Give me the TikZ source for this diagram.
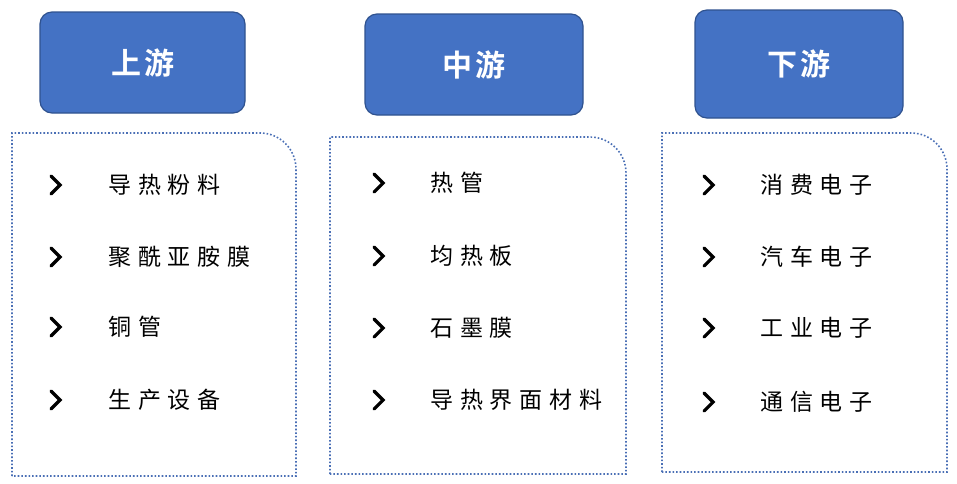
\documentclass[tikz,border=0pt]{standalone}
\usepackage{fontspec}
\setmainfont{Noto Sans CJK SC}[LetterSpace=30]
\newfontfamily\cjkb{Noto Sans CJK SC Bold}[LetterSpace=10]
\begin{document}
\begin{tikzpicture}[x=1pt,y=-1pt,
  hdr/.style={draw=hdrline,line width=1.2pt,fill=hdrfill,rounded corners=12pt,text=white,font=\cjkb\fontsize{30}{32}\selectfont},
  dbox/.style={draw=dotline,line width=1.6pt,dotted},
  item/.style={anchor=west,font=\fontsize{23}{26}\selectfont,inner sep=0pt},
  chev/.style={line width=3.2pt,line cap=round,line join=miter}]
\definecolor{hdrfill}{HTML}{4472C4}
\definecolor{hdrline}{HTML}{2F528F}
\definecolor{dotline}{HTML}{4A6FB5}
\useasboundingbox (0,0) rectangle (957,483);
\node[hdr,minimum width=205pt,minimum height=101pt] (h1) at (142.5,62.5) {上游};
\node[hdr,minimum width=218pt,minimum height=101pt] (h2) at (474,64.5) {中游};
\node[hdr,minimum width=208pt,minimum height=108pt] (h3) at (799,64) {下游};
\draw[dbox] (12,476) -- (12,133) [rounded corners=36pt] -- (296,133) [sharp corners] -- (296,476) -- cycle;
\draw[dbox] (330,474) -- (330,137) [rounded corners=36pt] -- (626,137) [sharp corners] -- (626,474) -- cycle;
\draw[dbox] (662,472) -- (662,133) [rounded corners=36pt] -- (947,133) [sharp corners] -- (947,472) -- cycle;
\foreach \x/\t/\l [count=\i] in {
 55/108/{185/导热粉料,257/聚酰亚胺膜,327/铜管,400/生产设备},
 378/430/{183/热管,256/均热板,328/石墨膜,400/导热界面材料},
 708/760/{185/消费电子,257/汽车电子,328/工业电子,402/通信电子}}{
  \foreach \y/\s [count=\j] in \l {
    \draw[chev] (\x-4,\y-9) -- (\x+5,\y) -- (\x-4,\y+9);
    \node[item] (t\i\j) at (\t,\y) {\s};
  }
}
\end{tikzpicture}
\end{document}
